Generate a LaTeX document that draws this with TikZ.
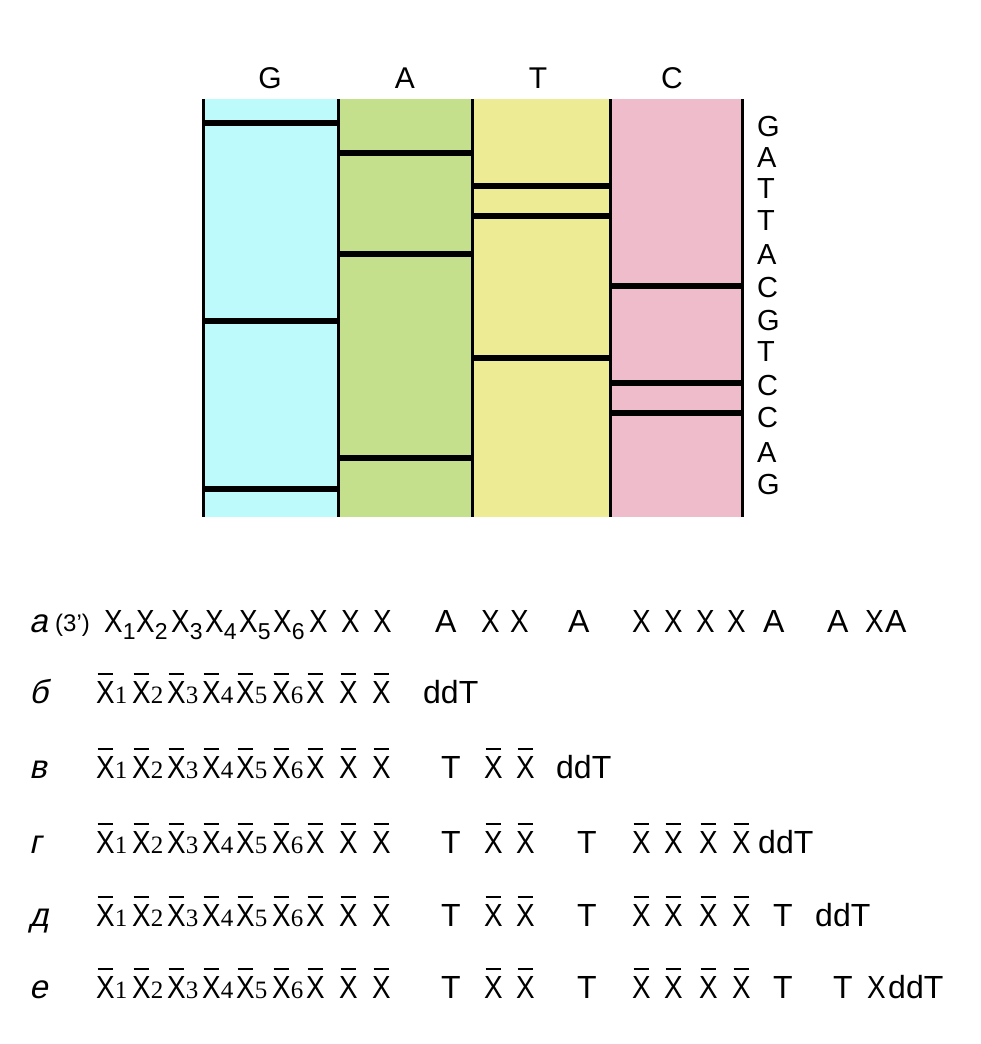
\documentclass[tikz,border=0pt]{standalone}
\usepackage{fontspec}
\usepackage{graphicx}
\setmainfont{Liberation Sans}
\newfontfamily\slantsans[FakeSlant=0.22]{Liberation Sans}
\newfontfamily\subserif{Liberation Serif}
\usetikzlibrary{positioning}

\definecolor{laneG}{RGB}{188,250,252}
\definecolor{laneA}{RGB}{196,224,140}
\definecolor{laneT}{RGB}{237,235,147}
\definecolor{laneC}{RGB}{239,188,203}

% narrow X, X with a bar, and the indexed forms
\newcommand{\Xn}{\scalebox{0.87}[1]{X}}
\newcommand{\barX}{\leavevmode\rlap{\kern1.4pt\rule[28pt]{15.5pt}{2.5pt}}\Xn}
\newcommand{\Xs}[1]{\Xn\raisebox{-7pt}{\fontsize{23}{23}\selectfont #1}}
\newcommand{\Xbs}[1]{\barX{\fontsize{25}{25}\subserif #1}}

\begin{document}
\begin{tikzpicture}[x=1pt, y=-1pt,
  tok/.style={anchor=base west, inner sep=0pt, font=\fontsize{32}{36}\selectfont},
  rowlbl/.style={anchor=base west, inner sep=0pt, font=\fontsize{33}{38}\slantsans},
  lanelbl/.style={anchor=base, inner sep=0pt, font=\fontsize{30}{34}\selectfont},
  seqlbl/.style={anchor=west, inner sep=0pt, font=\fontsize{29}{32}\selectfont},
  band/.style={line width=6pt},
  divider/.style={line width=3pt}]
  \path[use as bounding box] (0,0) rectangle (981,1044);

  % Gel lanes
  \foreach \xl/\xr/\c in {203/338/laneG, 338/472/laneA, 472/610/laneT, 610/742/laneC}
    \fill[\c] (\xl,99) rectangle (\xr,517);

  % Bands
  \foreach \y in {123,321,489} \draw[band] (203,\y) -- (338,\y);
  \foreach \y in {153,254,458} \draw[band] (338,\y) -- (472,\y);
  \foreach \y in {186,216,358} \draw[band] (472,\y) -- (610,\y);
  \foreach \y in {286,383,413} \draw[band] (610,\y) -- (742,\y);

  \foreach \x in {203,338,472,610,742}
    \draw[divider] (\x,99) -- (\x,517);

  % Lane labels
  \node[lanelbl] (lG) at (270,88) {G};
  \node[lanelbl] (lA) at (405,88) {A};
  \node[lanelbl] (lT) at (538,88) {T};
  \node[lanelbl] (lC) at (672,88) {C};

  % Sequence read off the gel
  \foreach \y/\b [count=\i] in {127/G,158/A,189/T,221/T,255/A,288/C,321/G,352/T,386/C,418/C,453/A,485/G}
    \node[seqlbl] (s\i) at (757,\y) {\b};

  % Row a
  \node[rowlbl] (ra) at (29,632) {а};
  \node[anchor=base west, inner sep=0pt, font=\fontsize{24}{28}\selectfont] (r3) at (55,631) {(3’)};
  \foreach \x/\t [count=\i] in {104/\Xs{1},136/\Xs{2},171/\Xs{3},205/\Xs{4},239/\Xs{5},273/\Xs{6},
      309/\Xn,341/\Xn,373/\Xn,435/A,481/\Xn,510/\Xn,568/A,632/\Xn,664/\Xn,696/\Xn,727/\Xn,763/A,827/A,865/\Xn,885/A}
    \node[tok] (a\i) at (\x,632) {\t};

  % Rows b to e: common start
  \foreach \r/\l/\y in {b/б/703, v/в/778, g/г/853, d/д/926, e/е/998}{
    \node[rowlbl] (r\r) at (29,\y) {\l};
    \foreach \x/\t [count=\i] in {96/\Xbs{1},132/\Xbs{2},167/\Xbs{3},202/\Xbs{4},236/\Xbs{5},272/\Xbs{6},
        306/\barX,339/\barX,372/\barX}
      \node[tok] (\r\i) at (\x,\y) {\t};
  }
  \node[tok] (b10) at (423,703) {ddT};

  \foreach \x/\t [count=\i from 10] in {441/T,484/\barX,516/\barX,556/ddT}
    \node[tok] (v\i) at (\x,778) {\t};

  \foreach \x/\t [count=\i from 10] in {441/T,484/\barX,516/\barX,577/T,632/\barX,664/\barX,699/\barX,732/\barX,758/ddT}
    \node[tok] (g\i) at (\x,853) {\t};

  \foreach \x/\t [count=\i from 10] in {441/T,484/\barX,516/\barX,577/T,632/\barX,664/\barX,699/\barX,732/\barX,773/T,815/ddT}
    \node[tok] (d\i) at (\x,926) {\t};

  \foreach \x/\t [count=\i from 10] in {441/T,484/\barX,516/\barX,577/T,632/\barX,664/\barX,699/\barX,732/\barX,773/T,833/T,867/\Xn,888/ddT}
    \node[tok] (e\i) at (\x,998) {\t};
\end{tikzpicture}
\end{document}
